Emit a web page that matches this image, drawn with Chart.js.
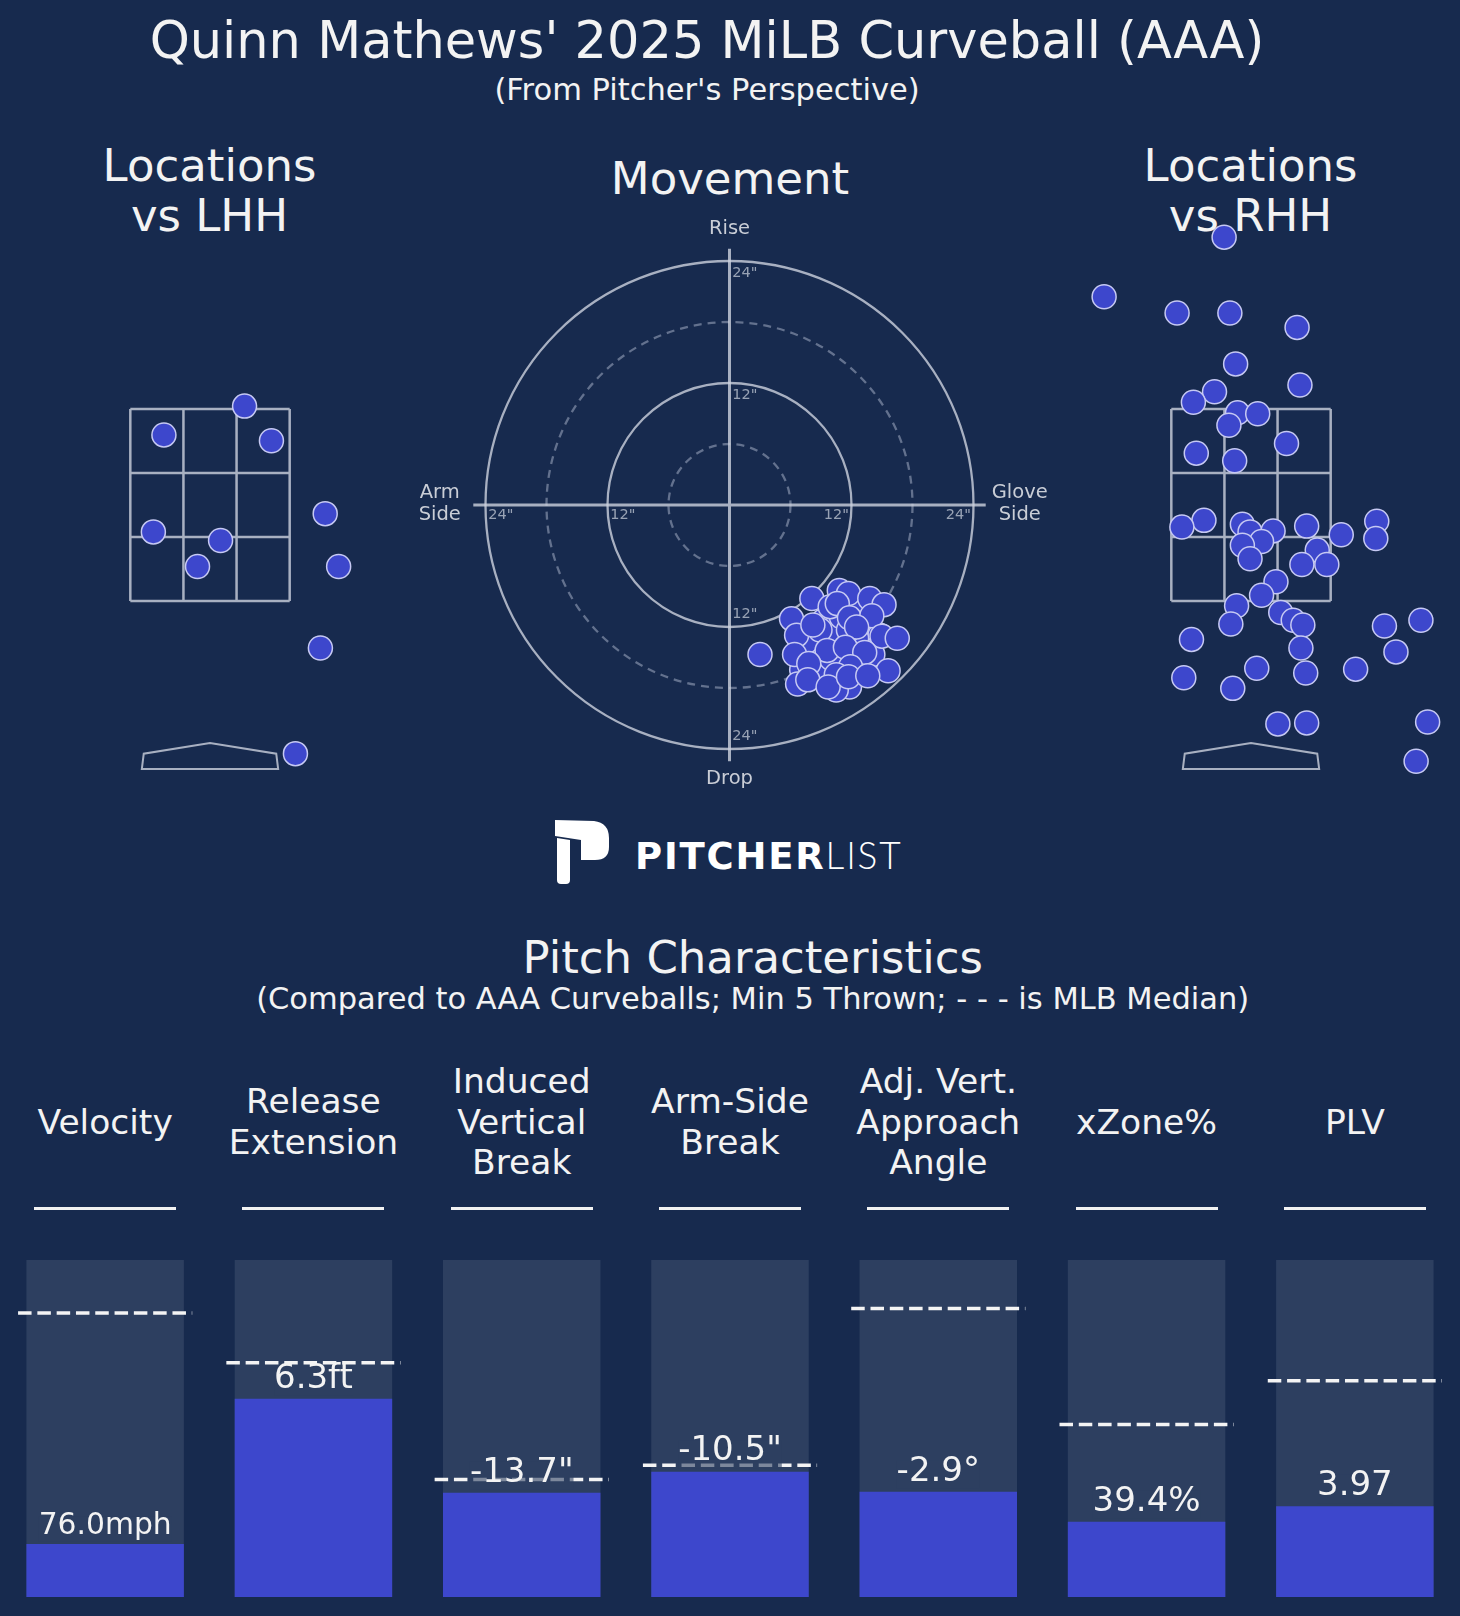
<!DOCTYPE html>
<html>
<head>
<meta charset="utf-8">
<title>Quinn Mathews' 2025 MiLB Curveball (AAA)</title>
<script src="https://cdn.jsdelivr.net/npm/chart.js"></script>
<style>
  html, body { margin: 0; padding: 0; }
  body {
    width: 1460px; height: 1616px; background: #172a4e; position: relative; overflow: hidden;
    font-family: "DejaVu Sans", sans-serif; color: #f3f3f3;
  }
  .txt { position: absolute; transform: translateX(-50%); white-space: nowrap; text-align: center; }
  canvas { position: absolute; }
  .rule { position: absolute; height: 3.5px; background: #f2f2f2; }
</style>
</head>
<body>

<div class="txt" style="left:707px;top:15px;font-size:51px;line-height:51px">Quinn Mathews' 2025 MiLB Curveball (AAA)</div>
<div class="txt" style="left:707px;top:75px;font-size:30.5px;line-height:30.5px">(From Pitcher's Perspective)</div>

<div class="txt" style="left:209.5px;top:141px;font-size:45px;line-height:50px">Locations<br>vs LHH</div>
<div class="txt" style="left:730px;top:154.4px;font-size:45px;line-height:50px">Movement</div>
<div class="txt" style="left:1250.5px;top:141px;font-size:45px;line-height:50px">Locations<br>vs RHH</div>

<canvas id="lhh"></canvas>
<canvas id="movement"></canvas>
<canvas id="rhh"></canvas>

<!-- logo -->
<svg style="position:absolute;left:550px;top:815px" width="70" height="75" viewBox="0 0 70 75">
  <path fill="#ffffff" d="M5,5 L44,6 Q59,8 59,23 L59,32 Q59,45 45,45 L31,45 L31,25 L5,21 Z"/>
  <path fill="#ffffff" d="M7,23 L20,25 L20,65 Q20,69 16,69 L11,69 Q7,69 7,65 Z"/>
</svg>
<div style="position:absolute;left:635px;top:835.7px;font-size:37px;line-height:37px;white-space:nowrap;color:#ffffff"><span style="font-weight:bold;letter-spacing:1.8px">PITCHER</span><span style="font-family:Lato,'DejaVu Sans',sans-serif;font-weight:300;letter-spacing:1.8px">LIST</span></div>

<div class="txt" style="left:752.7px;top:934.6px;font-size:45px;line-height:45px">Pitch Characteristics</div>
<div class="txt" style="left:752.7px;top:984px;font-size:30.5px;line-height:30.5px">(Compared to AAA Curveballs; Min 5 Thrown; - - - is MLB Median)</div>

<canvas id="bars"></canvas>

<script>
// ---- data ----

// pitch locations vs LHH (feet; x from pitcher's view, z height)
const lhhX = [0.36, -0.48, 0.64, 1.20, -0.59, 0.11, -0.13, 1.34, 1.15, 0.89];
const lhhZ = [3.53, 3.23, 3.17, 2.41, 2.22, 2.13, 1.86, 1.86, 1.01, -0.09];

// pitch locations vs RHH
const rhhX = [-0.28, -1.53, -0.77, -0.22, 0.48, -0.16, 0.51, -0.38, -0.60, -0.14,
              -0.23, 0.07, 0.37, -0.57, -0.17, -0.49, -0.72, -0.09, -0.01, 0.23,
              0.11, -0.09, -0.01, 0.58, 0.94, 1.31, 1.30, 0.69, 0.53, 0.79,
              0.26, 0.11, -0.15, -0.21, 0.31, 0.44, 0.54, 0.52, -0.62, 1.39,
              1.77, 1.51, -0.70, -0.19, 0.06, 0.57, 1.09, 0.28, 0.58, 1.84, 1.72];
const rhhZ = [5.29, 4.67, 4.50, 4.50, 4.35, 3.97, 3.75, 3.68, 3.57, 3.46,
              3.33, 3.45, 3.14, 3.04, 2.96, 2.34, 2.27, 2.30, 2.22, 2.23,
              2.12, 2.08, 1.94, 2.28, 2.19, 2.33, 2.15, 2.03, 1.88, 1.88,
              1.70, 1.56, 1.45, 1.26, 1.38, 1.30, 1.25, 1.01, 1.10, 1.24,
              1.30, 0.97, 0.70, 0.59, 0.80, 0.75, 0.79, 0.22, 0.23, 0.24, -0.17];

// movement (inches): + is glove side, induced vertical break
const gloveBreak = [11.4, 10.5, 12.8, 9.2, 8.7, 9.2, 12.5, 11.4, 9.7, 7.9,
                    14.8, 10.7, 8.9, 13.3, 11.2, 6.9, 12.8, 12.2, 10.0, 12.8,
                    7.6, 14.1, 11.0, 8.9, 11.8, 7.1, 11.0, 10.0, 12.5, 11.7, 10.5,
                    3.0, 6.1, 8.1, 10.8, 11.7, 13.8, 15.2, 9.9, 10.6, 11.8,
                    14.0, 6.6, 8.9, 8.2, 12.5, 15.0, 16.5, 6.4, 9.6, 11.4,
                    13.3, 7.8, 11.9, 15.6, 6.7, 7.7, 10.5, 9.7, 11.7, 13.6];
const inducedVB = [-13.3, -13.4, -15.2, -16.2, -12.0, -11.4, -10.5, -12.6, -13.4, -14.1,
                   -12.8, -15.1, -14.9, -16.2, -17.2, -14.3, -10.0, -14.7, -12.8, -13.9,
                   -13.4, -14.7, -16.1, -16.9, -17.9, -16.2, -11.0, -15.1, -13.1, -12.3, -18.2,
                   -14.7, -11.2, -9.2, -8.4, -8.7, -9.2, -9.8, -10.0, -9.7, -11.1,
                   -10.9, -12.8, -12.3, -11.8, -12.0, -12.9, -13.1, -14.7, -14.3, -14.0,
                   -14.5, -15.6, -15.9, -16.3, -17.6, -17.2, -16.7, -17.9, -16.9, -16.8];

// movement rings
const solidRings = [12, 24];
const dashedRings = [6, 18];

// pitch characteristics
const metricNames = ['Velocity', 'Release\nExtension', 'Induced\nVertical\nBreak', 'Arm-Side\nBreak',
                     'Adj. Vert.\nApproach\nAngle', 'xZone%', 'PLV'];
const metricValues = ['76.0mph', '6.3ft', '-13.7"', '-10.5"', '-2.9°', '39.4%', '3.97'];
const metricPctl = [15.7, 58.8, 30.9, 37.2, 31.2, 22.3, 26.9];
const mlbMedianPctl = [84.3, 69.5, 34.9, 39.1, 85.6, 51.2, 64.2];

// ---- layout ----
const FONT = '"DejaVu Sans", sans-serif';
Chart.defaults.font.family = FONT;
Chart.defaults.animation = false;

const PX_FT = 96;            // location panels
const ZONE_BOTTOM_Y = 601;   // page y of z = 1.5 ft
const Z_MIN = -0.625, Z_MAX = 5.625;

const TEXT = '#f3f3f3';
const BG_BAR = '#2d3f60';
const FILL = '#3d47cc';
const EDGE = '#c6c9f3';
const LINE = 'rgba(205,210,222,0.8)';

function place(id, left, top, w, h) {
    const c = document.getElementById(id);
    c.width = w;
    c.height = h;
    c.style.left = left + 'px';
    c.style.top = top + 'px';
    c.style.width = w + 'px';
    c.style.height = h + 'px';
    return c;
}

function points(xs, ys) {
    return xs.map((v, i) => ({ x: v, y: ys[i] }));
}

function scatterDataset(xs, ys) {
    return {
        data: points(xs, ys),
        pointRadius: 12,
        pointHoverRadius: 12,
        pointBackgroundColor: FILL,
        pointBorderColor: EDGE,
        pointBorderWidth: 1.5,
        showLine: false,
        clip: false
    };
}

function baseOptions(xMin, xMax, yMin, yMax) {
    return {
        responsive: false,
        animation: false,
        events: [],
        layout: { padding: 0, autoPadding: false },
        scales: {
            x: { type: 'linear', display: false, min: xMin, max: xMax },
            y: { type: 'linear', display: false, min: yMin, max: yMax }
        },
        plugins: { legend: { display: false }, tooltip: { enabled: false } }
    };
}

// strike zone and plate
const zonePlugin = {
    id: 'zone',
    beforeDatasetsDraw(chart) {
        const { ctx, scales: { x, y } } = chart;
        const hw = 0.83, zb = 1.5, zt = 3.5;
        ctx.save();
        ctx.strokeStyle = LINE;
        ctx.lineWidth = 2.5;
        ctx.beginPath();
        [-hw, -hw / 3, hw / 3, hw].forEach(v => {
            ctx.moveTo(x.getPixelForValue(v), y.getPixelForValue(zb));
            ctx.lineTo(x.getPixelForValue(v), y.getPixelForValue(zt));
        });
        [zb, zb + 2 / 3, zb + 4 / 3, zt].forEach(v => {
            ctx.moveTo(x.getPixelForValue(-hw), y.getPixelForValue(v));
            ctx.lineTo(x.getPixelForValue(hw), y.getPixelForValue(v));
        });
        ctx.stroke();

        ctx.lineWidth = 2;
        ctx.beginPath();
        const plate = [[-0.71, -0.25], [0.71, -0.25], [0.69, -0.09], [0, 0.02], [-0.69, -0.09]];
        plate.forEach(([px, pz], i) => {
            const X = x.getPixelForValue(px), Y = y.getPixelForValue(pz);
            if (i === 0) ctx.moveTo(X, Y); else ctx.lineTo(X, Y);
        });
        ctx.closePath();
        ctx.stroke();
        ctx.restore();
    }
};

// rings, axes and labels of the movement plot
const ringPlugin = {
    id: 'rings',
    beforeDatasetsDraw(chart) {
        const { ctx, scales: { x, y } } = chart;
        const cx = x.getPixelForValue(0), cy = y.getPixelForValue(0);
        const px = v => x.getPixelForValue(v) - cx;
        ctx.save();

        ctx.lineWidth = 2.3;
        ctx.strokeStyle = 'rgba(150,162,185,0.6)';
        ctx.setLineDash([8, 6]);
        dashedRings.forEach(r => {
            ctx.beginPath();
            ctx.arc(cx, cy, px(r), 0, Math.PI * 2);
            ctx.stroke();
        });
        ctx.setLineDash([]);
        ctx.strokeStyle = LINE;
        solidRings.forEach(r => {
            ctx.beginPath();
            ctx.arc(cx, cy, px(r), 0, Math.PI * 2);
            ctx.stroke();
        });

        ctx.lineWidth = 3;
        ctx.beginPath();
        ctx.moveTo(x.getPixelForValue(-25.2), cy);
        ctx.lineTo(x.getPixelForValue(25.2), cy);
        ctx.moveTo(cx, y.getPixelForValue(25.2));
        ctx.lineTo(cx, y.getPixelForValue(-25.2));
        ctx.stroke();

        ctx.fillStyle = 'rgba(185,192,206,0.8)';
        ctx.font = '14.5px ' + FONT;
        ctx.textAlign = 'center';
        ctx.textBaseline = 'middle';
        solidRings.forEach(r => {
            const t = r + '"';
            ctx.fillText(t, x.getPixelForValue(1.5), y.getPixelForValue(r - 1.25));
            ctx.fillText(t, x.getPixelForValue(1.5), y.getPixelForValue(-(r - 1.25)));
            ctx.fillText(t, x.getPixelForValue(-(r - 1.5)), y.getPixelForValue(-1.0));
            ctx.fillText(t, x.getPixelForValue(r - 1.5), y.getPixelForValue(-1.0));
        });

        ctx.fillStyle = '#c9cdd6';
        ctx.font = '19.5px ' + FONT;
        ctx.fillText('Rise', cx, y.getPixelForValue(27.2));
        ctx.fillText('Drop', cx, y.getPixelForValue(-26.9));
        ctx.fillText('Arm', x.getPixelForValue(-28.5), cy - 12);
        ctx.fillText('Side', x.getPixelForValue(-28.5), cy + 10);
        ctx.fillText('Glove', x.getPixelForValue(28.55), cy - 12);
        ctx.fillText('Side', x.getPixelForValue(28.55), cy + 10);
        ctx.restore();
    }
};

function locationChart(id, cx, xs, zs, halfRange) {
    const w = 2 * halfRange * PX_FT;
    const h = (Z_MAX - Z_MIN) * PX_FT;
    const top = ZONE_BOTTOM_Y - (Z_MAX - 1.5) * PX_FT;
    const canvas = place(id, cx - w / 2, top, w, h);
    return new Chart(canvas, {
        type: 'scatter',
        data: { datasets: [scatterDataset(xs, zs)] },
        options: baseOptions(-halfRange, halfRange, Z_MIN, Z_MAX),
        plugins: [zonePlugin]
    });
}

locationChart('lhh', 209.7, lhhX, lhhZ, 2);
locationChart('rhh', 1251.2, rhhX, rhhZ, 2.25);

// movement: 61px per 6 inches, centre of the rings at (729.5, 505)
new Chart(place('movement', 394, 200, 671, 610), {
    type: 'scatter',
    data: { datasets: [scatterDataset(gloveBreak, inducedVB)] },
    options: baseOptions(-33, 33, -30, 30),
    plugins: [ringPlugin]
});

// median dashes and value labels on the characteristic bars
const medianPlugin = {
    id: 'medians',
    afterDatasetsDraw(chart) {
        const { ctx, scales: { y } } = chart;
        const meta = chart.getDatasetMeta(0);
        meta.data.forEach((bar, i) => {
            const x = bar.x, w = bar.width;
            const yMed = y.getPixelForValue(mlbMedianPctl[i]);
            ctx.save();
            ctx.strokeStyle = '#f4f4f4';
            ctx.lineWidth = 3.5;
            ctx.setLineDash([13.5, 5.8]);
            ctx.beginPath();
            ctx.moveTo(x - w * 0.553, yMed);
            ctx.lineTo(x + w * 0.553, yMed);
            ctx.stroke();
            ctx.setLineDash([]);

            let fs = 34;
            ctx.font = fs + 'px ' + FONT;
            let tw = ctx.measureText(metricValues[i]).width;
            if (tw > w * 0.845) {
                fs = fs * w * 0.845 / tw;
                ctx.font = fs + 'px ' + FONT;
                tw = ctx.measureText(metricValues[i]).width;
            }
            const base = y.getPixelForValue(metricPctl[i]) - 0.33 * fs;
            ctx.fillStyle = 'rgba(45,63,96,0.6)';
            ctx.fillRect(x - tw / 2, base - 0.6 * fs, tw, 0.84 * fs);
            ctx.fillStyle = TEXT;
            ctx.textAlign = 'center';
            ctx.textBaseline = 'alphabetic';
            ctx.fillText(metricValues[i], x, base);
            ctx.restore();
        });
    }
};

const BAR_LEFT = 1, BAR_TOP = 1260;
const barChart = new Chart(place('bars', BAR_LEFT, BAR_TOP, 1458, 337), {
    type: 'bar',
    data: {
        labels: metricNames.map(n => n.replace(/\n/g, ' ')),
        datasets: [
            { data: metricPctl, backgroundColor: FILL, order: 0 },
            { data: metricNames.map(() => 100), backgroundColor: BG_BAR, order: 1 }
        ]
    },
    options: Object.assign(baseOptions(0, 1, 0, 100), {
        datasets: { bar: { grouped: false, categoryPercentage: 1, barPercentage: 0.756 } },
        scales: {
            x: { type: 'category', display: false },
            y: { type: 'linear', display: false, min: 0, max: 100 }
        }
    }),
    plugins: [medianPlugin]
});

// metric titles and rules, centred on the bars
barChart.getDatasetMeta(0).data.forEach((bar, i) => {
    const cx = BAR_LEFT + bar.x;
    const lines = metricNames[i].split('\n');
    const d = document.createElement('div');
    d.className = 'txt';
    d.style.left = cx + 'px';
    d.style.top = (1101.5 - (lines.length - 1) * 20.25) + 'px';
    d.style.fontSize = '34.5px';
    d.style.lineHeight = '40.5px';
    d.innerHTML = lines.join('<br>');
    document.body.appendChild(d);

    const r = document.createElement('div');
    r.className = 'rule';
    r.style.left = (cx - 71) + 'px';
    r.style.top = '1206.5px';
    r.style.width = '142px';
    document.body.appendChild(r);
});
</script>
</body>
</html>
